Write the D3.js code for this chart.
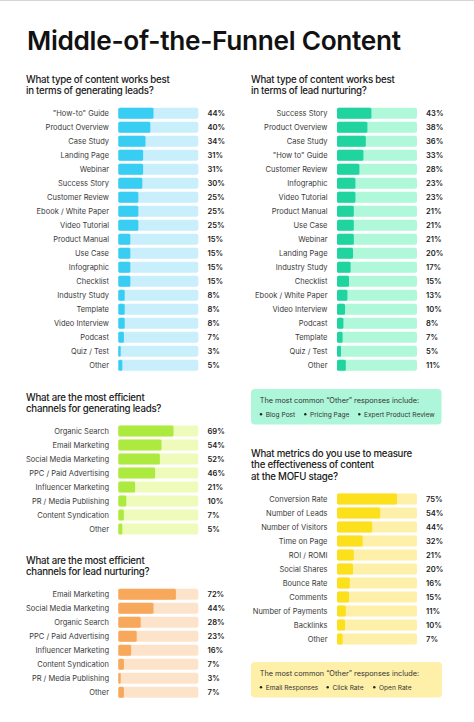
<!DOCTYPE html>
<html><head><meta charset="utf-8">
<script src="https://cdn.jsdelivr.net/npm/d3@7"></script>
<style>
html,body{margin:0;padding:0;background:#fff;}
svg{display:block;}
</style></head>
<body>
<svg id="chart" width="474" height="722"></svg>
<script>
// ---------- DATA ----------
const leadGenContentCats = ['"How-to" Guide','Product Overview','Case Study','Landing Page','Webinar','Success Story','Customer Review','Ebook / White Paper','Video Tutorial','Product Manual','Use Case','Infographic','Checklist','Industry Study','Template','Video Interview','Podcast','Quiz / Test','Other'];
const leadGenContentVals = [44,40,34,31,31,30,25,25,25,15,15,15,15,8,8,8,7,3,5];

const nurtureContentCats = ['Success Story','Product Overview','Case Study','"How to" Guide','Customer Review','Infographic','Video Tutorial','Product Manual','Use Case','Webinar','Landing Page','Industry Study','Checklist','Ebook / White Paper','Video Interview','Podcast','Template','Quiz / Test','Other'];
const nurtureContentVals = [43,38,36,33,28,23,23,21,21,21,20,17,15,13,10,8,7,5,11];

const leadGenChannelCats = ['Organic Search','Email Marketing','Social Media Marketing','PPC / Paid Advertising','Influencer Marketing','PR / Media Publishing','Content Syndication','Other'];
const leadGenChannelVals = [69,54,52,46,21,10,7,5];

const nurtureChannelCats = ['Email Marketing','Social Media Marketing','Organic Search','PPC / Paid Advertising','Influencer Marketing','Content Syndication','PR / Media Publishing','Other'];
const nurtureChannelVals = [72,44,28,23,16,7,3,7];

const metricCats = ['Conversion Rate','Number of Leads','Number of Visitors','Time on Page','ROI / ROMI','Social Shares','Bounce Rate','Comments','Number of Payments','Backlinks','Other'];
const metricVals = [75,54,44,32,21,20,16,15,11,10,7];

const nurtureOtherNotes = ['Blog Post','Pricing Page','Expert Product Review'];
const metricOtherNotes = ['Email Responses','Click Rate','Open Rate'];

// ---------- DRAW ----------
const svg = d3.select('#chart');
const QFONT = 'Inter, "Noto Sans", sans-serif';
const LFONT = 'Inter, "Noto Sans", sans-serif';

svg.append('line').attr('x1',0).attr('x2',474).attr('y1',0.5).attr('y2',0.5)
  .attr('stroke','#d6d6d6').attr('stroke-width',1);

// title
const title = svg.append('text').attr('x',27).attr('y',50)
  .attr('font-family',QFONT).attr('font-weight',600).attr('font-size',30)
  .attr('fill','#111').attr('letter-spacing',-0.3)
  .text('Middle-of-the-Funnel Content');
{
  const w = title.node().getComputedTextLength();
  title.attr('font-size', 30 * 375 / w);
}

function question(x, y, lines){
  const t = svg.append('text').attr('font-family',QFONT).attr('font-weight',500)
    .attr('font-size',9.7).attr('letter-spacing',-0.25).attr('fill','#1a1a1a');
  lines.forEach((l,i)=>{
    t.append('tspan').attr('x',x).attr('y',y + i*11.4).text(l);
  });
}

function barChart(opts){
  const {cats, vals, x0, labelX, valueX, yFirst, fill, track} = opts;
  const step = 14;
  const y = d3.scaleBand().domain(cats)
    .range([yFirst - step/2, yFirst - step/2 + step*cats.length])
    .paddingInner(0.22).paddingOuter(0.11);
  const x = d3.scaleLinear().domain([0,100]).range([x0, x0 + 80]);
  const g = svg.append('g');
  const rows = g.selectAll('g.row').data(cats.map((c,i)=>({c, v: vals[i]}))).join('g');
  rows.append('rect').attr('x', x(0)).attr('y', d=>y(d.c))
    .attr('width', x(100)-x(0)).attr('height', y.bandwidth())
    .attr('rx',2).attr('fill', track);
  rows.append('rect').attr('x', x(0)).attr('y', d=>y(d.c))
    .attr('width', d=>x(d.v)-x(0)).attr('height', y.bandwidth())
    .attr('rx',1.5).attr('fill', fill);
  rows.append('text').attr('x', labelX).attr('y', d=>y(d.c)+y.bandwidth()/2)
    .attr('dy','0.35em').attr('text-anchor','end')
    .attr('font-family',LFONT).attr('font-size',7.5).attr('fill','#3a3a3a')
    .text(d=>d.c);
  rows.append('text').attr('x', valueX).attr('y', d=>y(d.c)+y.bandwidth()/2)
    .attr('dy','0.35em').attr('text-anchor','start')
    .attr('font-family',LFONT).attr('font-weight',600).attr('font-size',7.6).attr('fill','#222')
    .text(d=>d.v + '%');
}

function noteBox(x, y, w, h, color, items, bulletXs){
  svg.append('rect').attr('x',x).attr('y',y).attr('width',w).attr('height',h)
    .attr('rx',4).attr('fill',color);
  svg.append('text').attr('x',x+8.7).attr('y',y+11.3).attr('dy','0.35em')
    .attr('font-family',LFONT).attr('font-size',7.3).attr('fill','#333')
    .text('The most common \u201cOther\u201d responses include:');
  items.forEach((it,i)=>{
    svg.append('circle').attr('cx',bulletXs[i]).attr('cy',y+25.3).attr('r',1.2).attr('fill','#222');
    svg.append('text').attr('x',bulletXs[i]+4.7).attr('y',y+25.3).attr('dy','0.35em')
      .attr('font-family',LFONT).attr('font-size',6.6).attr('fill','#333').text(it);
  });
}

// top-left
question(26, 82.5, ['What type of content works best','in terms of generating leads?']);
barChart({cats: leadGenContentCats, vals: leadGenContentVals, x0:118.3, labelX:109, valueX:207.5,
  yFirst:113.3, fill:'#38CDF2', track:'#C9EEFC'});

// top-right
question(251, 82.5, ['What type of content works best','in terms of lead nurturing?']);
barChart({cats: nurtureContentCats, vals: nurtureContentVals, x0:337, labelX:327.5, valueX:426,
  yFirst:113.3, fill:'#1FD49F', track:'#AFF8DA'});
noteBox(251, 389, 190.5, 35.5, '#ADF6D9', nurtureOtherNotes, [261, 305.3, 359.3]);

// mid-left
question(26, 401, ['What are the most efficient','channels for generating leads?']);
barChart({cats: leadGenChannelCats, vals: leadGenChannelVals, x0:118.3, labelX:109, valueX:207.5,
  yFirst:431, fill:'#ADEA3F', track:'#EEFBBB'});

// bottom-left
question(26, 563.5, ['What are the most efficient','channels for lead nurturing?']);
barChart({cats: nurtureChannelCats, vals: nurtureChannelVals, x0:118.3, labelX:109, valueX:207.5,
  yFirst:594.3, fill:'#F8A85B', track:'#FDE3CA'});

// bottom-right
question(251, 457, ['What metrics do you use to measure','the effectiveness of content','at the MOFU stage?']);
barChart({cats: metricCats, vals: metricVals, x0:337, labelX:327.5, valueX:426,
  yFirst:499, fill:'#FCE01B', track:'#FEF0A8'});
noteBox(251, 662, 191, 35.5, '#FEF0A8', metricOtherNotes, [261, 327.7, 374.3]);
</script>
</body></html>
